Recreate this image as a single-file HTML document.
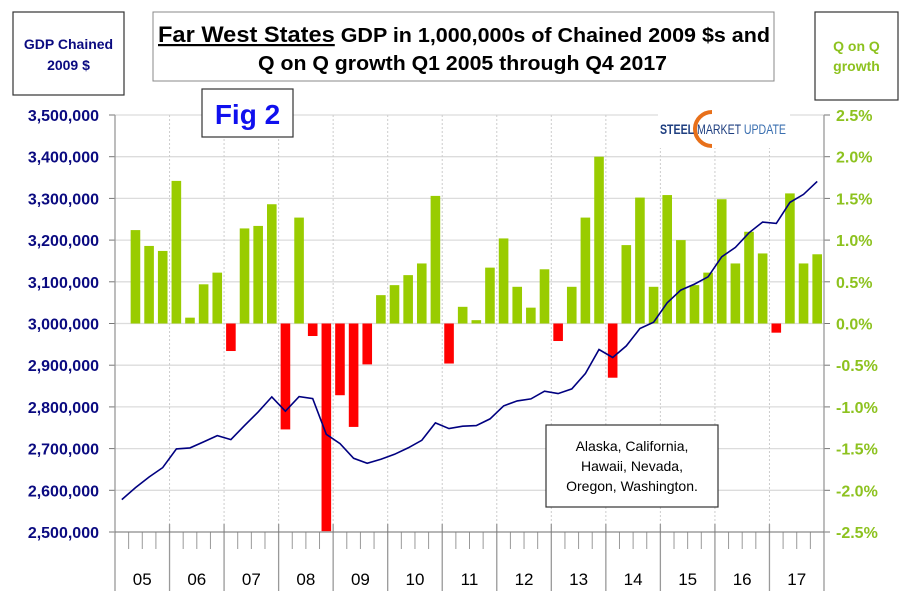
<!DOCTYPE html>
<html><head><meta charset="utf-8"><style>
body{margin:0;background:#fff;width:910px;height:601px;overflow:hidden;font-family:"Liberation Sans",Arial,sans-serif}
svg text{font-family:"Liberation Sans",Arial,sans-serif}
</style></head><body>
<svg id="chart" width="910" height="601" viewBox="0 0 910 601" xmlns="http://www.w3.org/2000/svg">
<g id="grid"></g>
<g id="bars"></g>
<path id="gdpline" fill="none" stroke="#000080" stroke-width="1.6"/>
<g id="axes"></g>
<rect x="13" y="12" width="111" height="83" fill="#fff" stroke="#333" stroke-width="1.2"/>
<text x="68.5" y="49" text-anchor="middle" font-size="14" font-weight="bold" fill="#0a0a80">GDP Chained</text>
<text x="68.5" y="70" text-anchor="middle" font-size="14" font-weight="bold" fill="#0a0a80">2009 $</text>
<rect x="153" y="12" width="621" height="69" fill="#fff" stroke="#888" stroke-width="1"/>
<text x="158" y="42" font-size="20" font-weight="bold" fill="#000" textLength="612" lengthAdjust="spacingAndGlyphs"><tspan font-size="22" text-decoration="underline">Far West States</tspan> GDP in 1,000,000s of Chained 2009 $s and</text>
<text x="258" y="70" font-size="20" font-weight="bold" fill="#000" textLength="409" lengthAdjust="spacingAndGlyphs">Q on Q growth Q1 2005 through Q4 2017</text>
<rect x="815" y="12" width="83" height="88" fill="#fff" stroke="#333" stroke-width="1.2"/>
<text x="856.5" y="51" text-anchor="middle" font-size="14" font-weight="bold" fill="#8dc21f">Q on Q</text>
<text x="856.5" y="71" text-anchor="middle" font-size="14" font-weight="bold" fill="#8dc21f">growth</text>
<rect x="202" y="89" width="91" height="48" fill="#fff" stroke="#333" stroke-width="1.2"/>
<text x="247.5" y="124" text-anchor="middle" font-size="28" font-weight="bold" fill="#1010ee">Fig 2</text>
<g>
<rect x="658" y="108" width="132" height="40" fill="#fff"/>
<path d="M712 112 A17 17 0 1 0 712 146" fill="none" stroke="#e8701a" stroke-width="4"/>
<text x="660" y="134" font-size="14" fill="#1f3f80" textLength="126" lengthAdjust="spacingAndGlyphs"><tspan font-weight="bold">STEEL</tspan> MARKET<tspan fill="#3a6fb0"> UPDATE</tspan></text>
</g>
<rect x="546" y="425" width="172" height="82" fill="#fff" stroke="#333" stroke-width="1.2"/>
<text x="632" y="451" text-anchor="middle" font-size="14" fill="#000">Alaska, California,</text>
<text x="632" y="471" text-anchor="middle" font-size="14" fill="#000">Hawaii, Nevada,</text>
<text x="632" y="491" text-anchor="middle" font-size="14" fill="#000">Oregon, Washington.</text>
</svg>
<script>
const years = ["05","06","07","08","09","10","11","12","13","14","15","16","17"];
const leftTicks = [2500000,2600000,2700000,2800000,2900000,3000000,3100000,3200000,3300000,3400000,3500000];
const rightTicks = [-2.5,-2,-1.5,-1,-0.5,0,0.5,1,1.5,2,2.5];
const gdp = [2577600,2606400,2632000,2654400,2699200,2701600,2716000,2731200,2721600,2755200,2788000,2824000,2789600,2824800,2820000,2734400,2712000,2676800,2664800,2674400,2686400,2701600,2720000,2761600,2748000,2753600,2755200,2771200,2802400,2814400,2819200,2837600,2832000,2843200,2880000,2937600,2918400,2946400,2988000,3003200,3049600,3080000,3094400,3112000,3160000,3182400,3217600,3243200,3240000,3290400,3309600,3340800];
const growth = [null,1.12,0.93,0.87,1.71,0.07,0.47,0.61,-0.33,1.14,1.17,1.43,-1.27,1.27,-0.15,-2.49,-0.86,-1.24,-0.49,0.34,0.46,0.58,0.72,1.53,-0.48,0.20,0.04,0.67,1.02,0.44,0.19,0.65,-0.21,0.44,1.27,2.00,-0.65,0.94,1.51,0.44,1.54,1.00,0.46,0.61,1.49,0.72,1.10,0.84,-0.11,1.56,0.72,0.83];
const NS="http://www.w3.org/2000/svg";
const L=115,R=824,T=115,B=532,N=52,slot=(R-L)/N;
const x=i=>L+(i+0.5)*slot;
const yL=v=>B-(v-2500000)/1000000*(B-T);
const yR=p=>B-(p+2.5)/5*(B-T);
function mk(tag,attrs,parent){const e=document.createElementNS(NS,tag);for(const k in attrs)e.setAttribute(k,attrs[k]);parent.appendChild(e);return e;}
const grid=document.getElementById('grid'),axes=document.getElementById('axes'),bars=document.getElementById('bars');
leftTicks.forEach((v,k)=>{
  const y=yL(v);
  const g=mk('line',{x1:L,x2:R,y1:y,y2:y,stroke:'#dcdcdc','stroke-width':1.3},grid);
  
  
  mk('line',{x1:L-6,x2:L,y1:y,y2:y,stroke:'#777'},axes);
  const t=mk('text',{x:99,y:y+6,'text-anchor':'end','font-size':16,'font-weight':'bold',fill:'#0a0a80'},axes);
  t.textContent=v.toLocaleString('en-US');
  
  
});
rightTicks.forEach(p=>{
  const y=yR(p);
  mk('line',{x1:R,x2:R+6,y1:y,y2:y,stroke:'#777'},axes);
  const t=mk('text',{x:836,y:y+6,'font-size':16,'font-weight':'bold',fill:'#8dc21f'},axes);
  t.textContent=p.toFixed(1)+'%';
  
  
});
years.forEach((yr,k)=>{
  const bx=L+k*4*slot;
  if(k>0){mk('line',{x1:bx,x2:bx,y1:T,y2:B,stroke:'#ccc','stroke-dasharray':'2,2'},grid);}
  mk('line',{x1:bx,x2:bx,y1:k==0?T:524,y2:591,stroke:'#999','stroke-width':1.3},axes);
  for(let q=1;q<4;q++){const qx=bx+q*slot;mk('line',{x1:qx,x2:qx,y1:B,y2:549,stroke:'#999'},axes);}
  const t=mk('text',{x:bx+2*slot,y:585,'text-anchor':'middle','font-size':17,fill:'#000'},axes);
  t.textContent=yr;
  
  
});
mk('line',{x1:R,x2:R,y1:T,y2:591,stroke:'#999','stroke-width':1.3},axes);
mk('line',{x1:L,x2:R,y1:B,y2:B,stroke:'#777'},axes);
growth.forEach((p,i)=>{
  if(p===null)return;
  const y0=yR(0),y1=yR(p);
  const r=mk('rect',{x:x(i)-4.8,width:9.6,y:Math.min(y0,y1),height:Math.abs(y1-y0),fill:p>=0?'#99cc00':'#ff0000'},bars);
  
  
});
document.getElementById('gdpline').setAttribute('d',gdp.map((v,i)=>(i?'L':'M')+x(i).toFixed(1)+' '+yL(v).toFixed(1)).join(' '));
</script>
</body></html>
